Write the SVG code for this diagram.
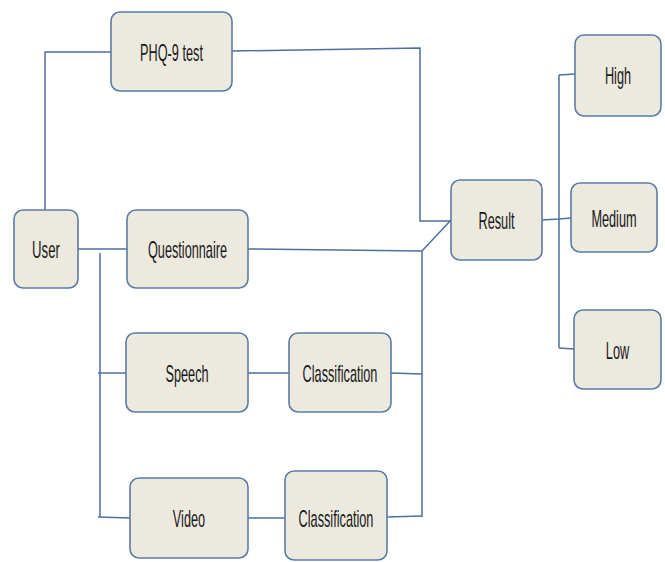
<svg xmlns="http://www.w3.org/2000/svg" width="665" height="562" viewBox="0 0 665 562">
<style>
.box{fill:#ECE9DF;stroke:#5B7BA6;stroke-width:1.6}
.lbl{font-family:"Liberation Sans",Arial,sans-serif;font-size:24px;fill:#1a1a1a;text-anchor:middle}
.c{fill:none;stroke:#4E6E9E;stroke-width:1.5}
</style>
<rect width="665" height="562" fill="#fff"/>
<g id="connectors">
<polyline class="c" points="45,210 45,52 111,52"/>
<polyline class="c" points="232,51 420,48 420,221 451,221"/>
<line class="c" x1="78" y1="249" x2="127" y2="249"/>
<line class="c" x1="100" y1="253" x2="100" y2="517"/>
<line class="c" x1="98" y1="373" x2="126" y2="373"/>
<line class="c" x1="98" y1="517" x2="130" y2="518"/>
<line class="c" x1="248" y1="373" x2="289" y2="373"/>
<line class="c" x1="391" y1="373" x2="422" y2="374"/>
<line class="c" x1="248" y1="518" x2="285" y2="518"/>
<line class="c" x1="387" y1="517" x2="422" y2="516"/>
<polyline class="c" points="248,249 422,251 451,220"/>
<line class="c" x1="422" y1="251" x2="422" y2="517"/>
<polyline class="c" points="542,220 559,219 571,218"/>
<line class="c" x1="559" y1="75" x2="559" y2="348"/>
<line class="c" x1="559" y1="75" x2="575" y2="74"/>
<line class="c" x1="559" y1="348" x2="574" y2="349"/>
</g>
<g id="phq"><rect class="box" x="111" y="12" width="121" height="79" rx="9"/><text class="lbl" transform="translate(171.5,61) scale(0.53,1)">PHQ-9 test</text></g>
<g id="user"><rect class="box" x="14" y="210" width="64" height="78" rx="9"/><text class="lbl" transform="translate(46,258) scale(0.55,1)">User</text></g>
<g id="questionnaire"><rect class="box" x="127" y="210" width="121" height="78" rx="9"/><text class="lbl" transform="translate(187.5,258) scale(0.53,1)">Questionnaire</text></g>
<g id="speech"><rect class="box" x="126" y="333" width="122" height="79" rx="9"/><text class="lbl" transform="translate(187,382) scale(0.53,1)">Speech</text></g>
<g id="classification1"><rect class="box" x="289" y="333" width="102" height="79" rx="9"/><text class="lbl" transform="translate(340,382) scale(0.53,1)">Classification</text></g>
<g id="video"><rect class="box" x="130" y="478" width="118" height="80" rx="9"/><text class="lbl" transform="translate(189,527) scale(0.53,1)">Video</text></g>
<g id="classification2"><rect class="box" x="285" y="471" width="102" height="89" rx="9"/><text class="lbl" transform="translate(336,527) scale(0.53,1)">Classification</text></g>
<g id="result"><rect class="box" x="451" y="180" width="91" height="80" rx="9"/><text class="lbl" transform="translate(496.5,229) scale(0.53,1)">Result</text></g>
<g id="high"><rect class="box" x="575" y="35" width="86" height="81" rx="9"/><text class="lbl" transform="translate(618,84) scale(0.53,1)">High</text></g>
<g id="medium"><rect class="box" x="571" y="183" width="86" height="69" rx="9"/><text class="lbl" transform="translate(614,227) scale(0.53,1)">Medium</text></g>
<g id="low"><rect class="box" x="574" y="310" width="87" height="79" rx="9"/><text class="lbl" transform="translate(617.5,359) scale(0.53,1)">Low</text></g>
</svg>
